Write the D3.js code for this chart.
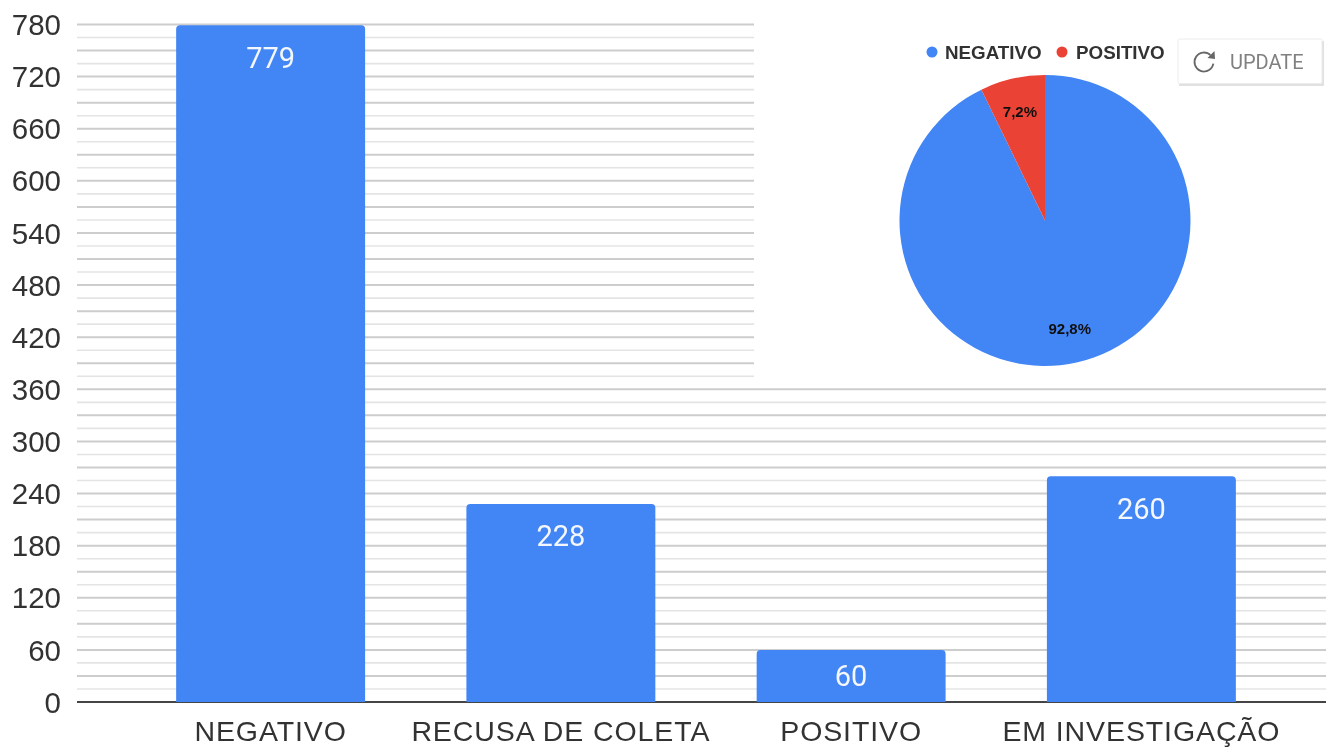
<!DOCTYPE html>
<html><head><meta charset="utf-8">
<script src="https://cdn.jsdelivr.net/npm/d3@7"></script>
<style>html,body{margin:0;padding:0;background:#fff;overflow:hidden}svg{display:block}</style>
</head><body><svg id="c" width="1326" height="748"></svg>
<script>
const categories = ["NEGATIVO","RECUSA DE COLETA","POSITIVO","EM INVESTIGAÇÃO"];
const values = [779,228,60,260];
const yTicks = [0,60,120,180,240,300,360,420,480,540,600,660,720,780];
const gridValues = d3.range(0,781,15);
const pieLabels = ["NEGATIVO","POSITIVO"];
const pieValues = [92.8,7.2];
const pieText = ["92,8%","7,2%"];
const pieColors = ["#4285f4","#ea4335"];

const svg = d3.select("#c");
const defs = svg.append("defs");
defs.append("filter").attr("id","soft").attr("x","-5%").attr("y","-5%").attr("width","110%").attr("height","110%")
  .append("feGaussianBlur").attr("stdDeviation",0.6);
const root = svg.append("g").attr("filter","url(#soft)");

const y = d3.scaleLinear().domain([0,780]).range([702,24.5]);
const x = d3.scaleBand().domain(categories).range([125.5,1286.5]).paddingInner(0.349).paddingOuter(0.1745);
const left = 77, right = 1326;

// gridlines
root.append("g").selectAll("line").data(gridValues.filter(d=>d>0)).join("line")
  .attr("x1",left).attr("x2",right).attr("y1",d=>y(d)).attr("y2",d=>y(d))
  .attr("stroke",d=>d%30===0?"#cdcdcd":"#e4e4e4")
  .attr("stroke-width",d=>d%30===0?2:1.6);

// white panel behind the pie overlay
root.append("rect").attr("x",754).attr("y",0).attr("width",572).attr("height",383).attr("fill","#fff");

// baseline
root.append("line").attr("x1",left).attr("x2",right).attr("y1",y(0)).attr("y2",y(0)).attr("stroke","#444").attr("stroke-width",2);

// y labels
root.append("g").selectAll("text").data(yTicks).join("text")
  .attr("x",61).attr("y",d=>y(d)).attr("dy","0.36em").attr("text-anchor","end")
  .attr("font-family","'Liberation Sans',Arial,sans-serif").attr("font-size",29.5).attr("fill","#333")
  .text(d=>d);

// bars
const r = 4;
root.append("g").selectAll("path").data(categories).join("path")
  .attr("fill","#4285f4")
  .attr("d",(c,i)=>{
    const x0=x(c),x1=x0+x.bandwidth(),t=y(values[i]),b=y(0);
    return `M${x0},${b}V${t+r}Q${x0},${t} ${x0+r},${t}H${x1-r}Q${x1},${t} ${x1},${t+r}V${b}Z`;
  });
root.append("g").selectAll("text").data(categories).join("text")
  .attr("x",c=>x(c)+x.bandwidth()/2)
  .attr("y",(c,i)=>y(values[i])+Math.min(32,(y(0)-y(values[i]))/2))
  .attr("dy","0.36em")
  .attr("text-anchor","middle").attr("font-family","Roboto,sans-serif").attr("font-size",29).attr("fill","#f4f7fd")
  .text((c,i)=>values[i]);

// category labels
root.append("g").selectAll("text").data(categories).join("text")
  .attr("x",c=>x(c)+x.bandwidth()/2).attr("y",741).attr("text-anchor","middle")
  .attr("font-family","'Liberation Sans',Arial,sans-serif").attr("font-size",28.5).attr("letter-spacing",0.9).attr("fill","#333")
  .text(c=>c);

// pie
const pieG = root.append("g").attr("transform","translate(1045,220.5)");
const arcs = d3.pie().sort(null)(pieValues);
const arc = d3.arc().innerRadius(0).outerRadius(145.5);
pieG.selectAll("path").data(arcs).join("path").attr("d",arc).attr("fill",(d,i)=>pieColors[i]);
const labelRadius = [110.5,112];
pieG.selectAll("text").data(arcs).join("text")
  .attr("transform",(d,i)=>{const a=(d.startAngle+d.endAngle)/2;return `translate(${Math.sin(a)*labelRadius[i]},${-Math.cos(a)*labelRadius[i]})`;})
  .attr("dy","0.36em").attr("text-anchor","middle")
  .attr("font-family","'Liberation Sans',Arial,sans-serif").attr("font-weight","bold").attr("font-size",15).attr("fill","#111")
  .text((d,i)=>pieText[i]);

// pie legend
const legX = [932,1062];
const leg = root.append("g").selectAll("g").data(pieLabels).join("g").attr("transform",(d,i)=>`translate(${legX[i]},52)`);
leg.append("circle").attr("r",5.5).attr("fill",(d,i)=>pieColors[i]);
leg.append("text").attr("x",(d,i)=>i?14:13).attr("dy","0.36em").attr("font-family","'Liberation Sans',Arial,sans-serif")
  .attr("font-weight","bold").attr("font-size",18.8).attr("fill","#333").text(d=>d);

// update button
const btn = root.append("g").attr("transform","translate(1178,39)");
btn.append("rect").attr("x",1).attr("y",2).attr("width",145).attr("height",45).attr("fill","#d4d4d4").attr("opacity",.7);
btn.append("rect").attr("width",144).attr("height",44.5).attr("rx",1.5).attr("fill","#fff").attr("stroke","#ececec");
btn.append("path").attr("transform","translate(26,23)")
  .attr("d",d3.arc().innerRadius(8.6).outerRadius(10.4).startAngle(1.75).endAngle(2*Math.PI+0.75)())
  .attr("fill","#666");
btn.append("path").attr("transform","translate(26,23)").attr("d","M3.5,-4L11,-3L10.5,-11Z").attr("fill","#666");
btn.append("text").attr("x",52).attr("y",22.5).attr("dy","0.36em").attr("font-family","Roboto,sans-serif")
  .attr("font-size",20).attr("fill","#808080").text("UPDATE");
</script></body></html>
